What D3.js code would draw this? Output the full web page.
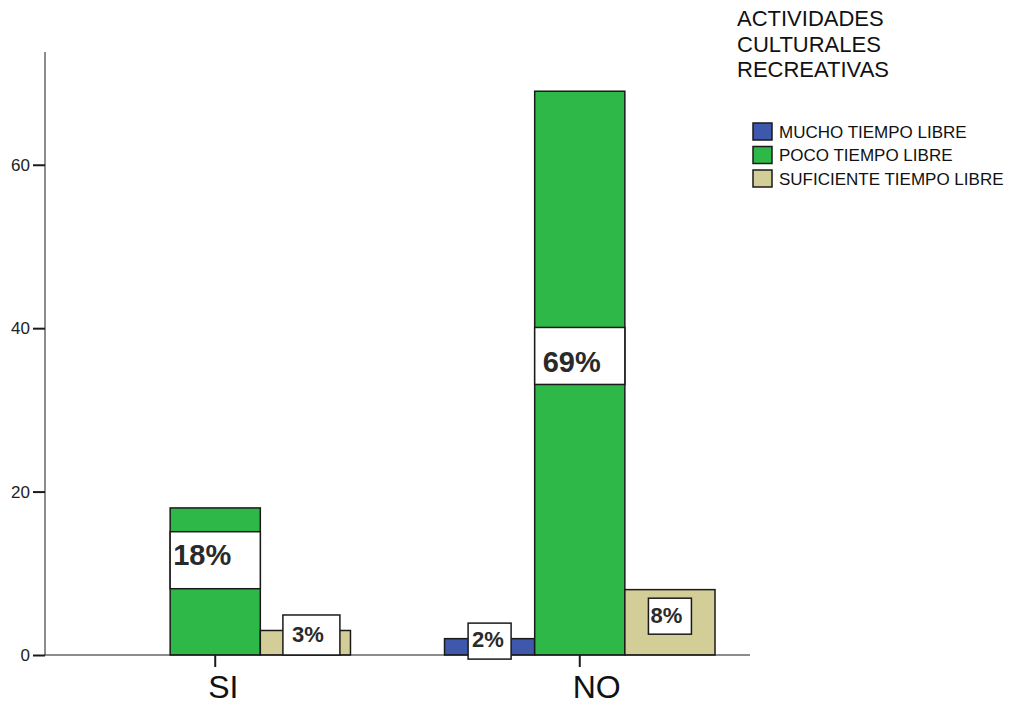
<!DOCTYPE html>
<html>
<head>
<meta charset="utf-8">
<script src="https://cdn.jsdelivr.net/npm/d3@7"></script>
<style>
  body { margin: 0; background: #fff; }
  text { font-family: Arial, "Liberation Sans", sans-serif; }
</style>
</head>
<body>
<div id="chart"></div>
<script>
// Data
var groups = ["SI", "NO"];
var seriesNames = ["MUCHO TIEMPO LIBRE", "POCO TIEMPO LIBRE", "SUFICIENTE TIEMPO LIBRE"];
var siValues = [0, 18, 3];
var noValues = [2, 69, 8];
var yTicks = [0, 20, 40, 60];
var legendTitle = ["ACTIVIDADES", "CULTURALES", "RECREATIVAS"];

var colors = ["#3e58ac", "#2eb848", "#d3ce97"];

// Where the percent boxes sit (data units for the centre, sizes in px)
var labelLayout = {
  "SI|1": { at: 11.6, w: "full", h: 57, size: 29, tx: 3, base: 33 },
  "SI|2": { at: 2.45, w: 57, h: 40, size: 22, tx: 9, base: 27, dx: 6 },
  "NO|0": { at: 1.7, w: 43, h: 36, size: 22, tx: 4, base: 24 },
  "NO|1": { at: 36.6, w: "full", h: 57, size: 29, tx: 8, base: 45 },
  "NO|2": { at: 4.75, w: 43, h: 36, size: 22, tx: 2, base: 25 }
};

var width = 1019, height = 706;
var x0 = 45, x1 = 750, yBottom = 655, yTop = 52;

var svg = d3.select("#chart").append("svg")
  .attr("width", width)
  .attr("height", height);

var rows = groups.map(function(g, i) {
  return { group: g, values: [siValues, noValues][i] };
});
var total = d3.sum(siValues) + d3.sum(noValues);

// Scales
var x = d3.scaleBand()
  .domain(groups)
  .range([x0, x1])
  .paddingInner(0.258)
  .paddingOuter(0.096);

var xs = d3.scaleBand()
  .domain(d3.range(seriesNames.length))
  .range([0, x.bandwidth()])
  .padding(0);

var y = d3.scaleLinear()
  .domain([0, 73.8])
  .range([yBottom, yTop]);

// Bars
var gBars = svg.append("g");
rows.forEach(function(r) {
  r.values.forEach(function(v, j) {
    if (v <= 0) return;
    gBars.append("rect")
      .attr("x", x(r.group) + xs(j))
      .attr("y", y(v))
      .attr("width", xs.bandwidth())
      .attr("height", y(0) - y(v))
      .attr("fill", colors[j])
      .attr("stroke", "#1a1a1a")
      .attr("stroke-width", 1.5);
  });
});

// Axes
var yAxis = svg.append("g")
  .attr("transform", "translate(" + x0 + ",0)")
  .call(d3.axisLeft(y).tickValues(yTicks).tickSize(12).tickPadding(3).tickFormat(d3.format("d")));
yAxis.select(".domain").attr("d", "M0," + yTop + "V" + yBottom);
yAxis.selectAll(".tick line").attr("stroke-width", 2);
yAxis.selectAll(".tick text").attr("font-size", 17).attr("fill", "#222")
  .style("font-family", "Arial, 'Liberation Sans', sans-serif");
yAxis.selectAll("path, line").attr("stroke", "#1a1a1a");

var xAxis = svg.append("g")
  .attr("transform", "translate(0," + yBottom + ")")
  .call(d3.axisBottom(x).tickSize(12).tickPadding(8));
xAxis.select(".domain").attr("d", "M" + x0 + ",0H" + x1);
xAxis.selectAll(".tick line").attr("stroke-width", 2);
xAxis.selectAll(".tick text").attr("font-size", 32).attr("fill", "#111")
  .attr("text-anchor", "start").attr("x", -7)
  .style("font-family", "Arial, 'Liberation Sans', sans-serif");
xAxis.selectAll("path, line").attr("stroke", "#1a1a1a");

// Percent labels
var gLab = svg.append("g");
rows.forEach(function(r) {
  r.values.forEach(function(v, j) {
    var L = labelLayout[r.group + "|" + j];
    if (!L) return;
    var bx = x(r.group) + xs(j);
    var bw = L.w === "full" ? xs.bandwidth() : L.w;
    var left = L.w === "full" ? bx : bx + (xs.bandwidth() - bw) / 2 + (L.dx || 0);
    var top = y(L.at) - L.h / 2;
    gLab.append("rect")
      .attr("x", left)
      .attr("y", top)
      .attr("width", bw)
      .attr("height", L.h)
      .attr("fill", "#fff")
      .attr("stroke", "#1a1a1a")
      .attr("stroke-width", 1.5);
    gLab.append("text")
      .attr("x", left + L.tx)
      .attr("y", top + L.base)
      .attr("font-size", L.size)
      .attr("font-weight", "bold")
      .attr("fill", "#2a2a2a")
      .text(Math.round(v / total * 100) + "%");
  });
});

// Legend
var leg = svg.append("g");
leg.selectAll("text.title")
  .data(legendTitle)
  .enter().append("text")
  .attr("class", "title")
  .attr("x", 737)
  .attr("y", function(d, i) { return 26 + i * 25.5; })
  .attr("font-size", 22)
  .attr("fill", "#111")
  .text(function(d) { return d; });

var items = leg.selectAll("g.item")
  .data(seriesNames)
  .enter().append("g")
  .attr("class", "item")
  .attr("transform", function(d, i) { return "translate(753," + (123 + i * 23.5) + ")"; });
items.append("rect")
  .attr("width", 19)
  .attr("height", 17)
  .attr("fill", function(d, i) { return colors[i]; })
  .attr("stroke", "#1a1a1a")
  .attr("stroke-width", 1.5);
items.append("text")
  .attr("x", 26)
  .attr("y", 14.5)
  .attr("font-size", 17)
  .attr("fill", "#111")
  .text(function(d) { return d; });
</script>
</body>
</html>
